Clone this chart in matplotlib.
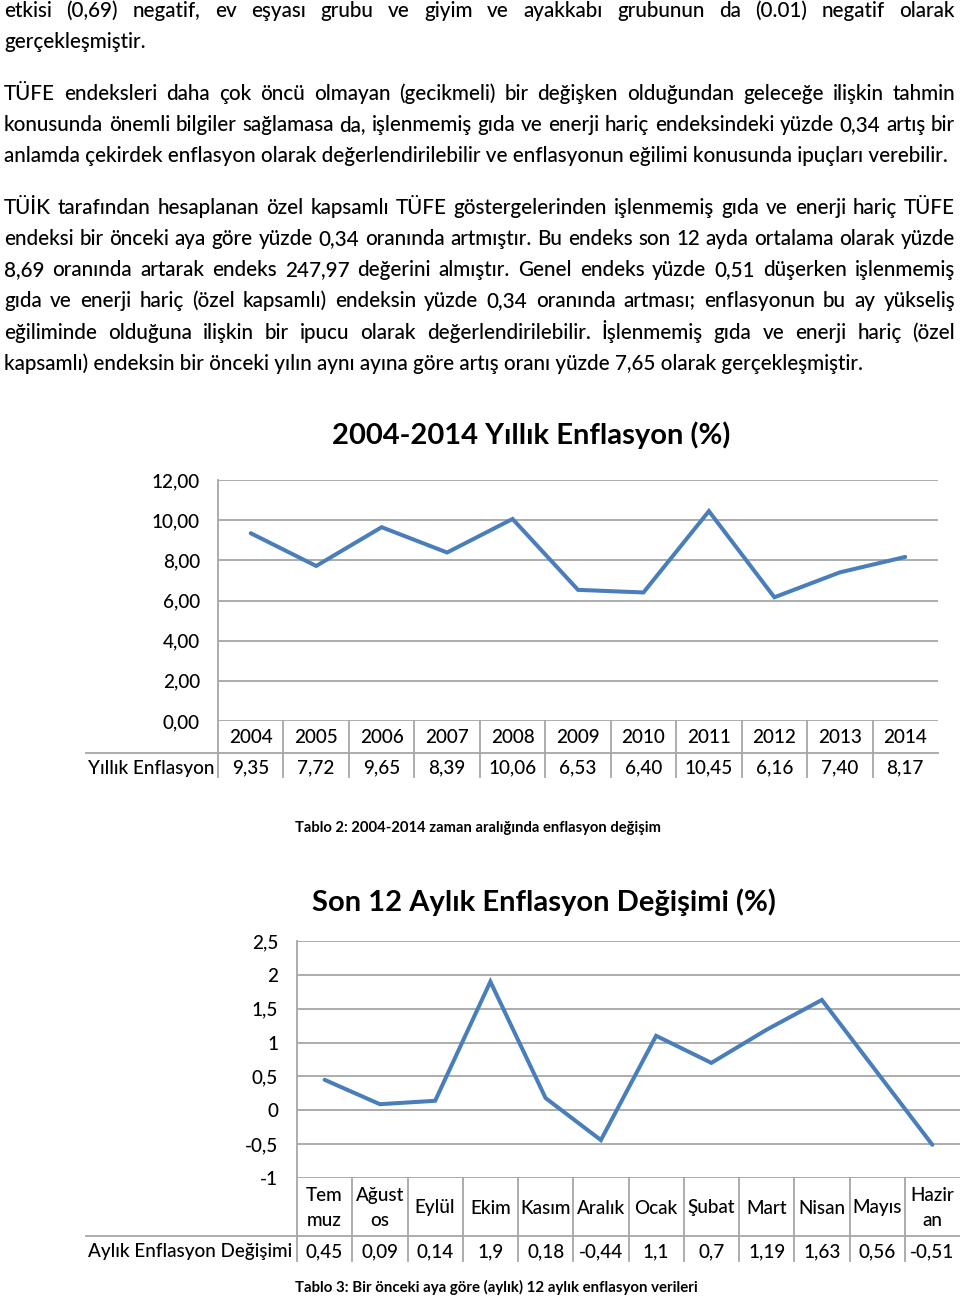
import numpy as np
import matplotlib
matplotlib.use('Agg')
import matplotlib.pyplot as plt
from matplotlib import transforms
from matplotlib.lines import Line2D

plt.rcParams['font.family'] = ['Lato', 'DejaVu Sans']
plt.rcParams['font.weight'] = 'medium'

# --- veriler ---
yillar = ['2004', '2005', '2006', '2007', '2008', '2009', '2010', '2011', '2012', '2013', '2014']
yillik = [9.35, 7.72, 9.65, 8.39, 10.06, 6.53, 6.40, 10.45, 6.16, 7.40, 8.17]
yillik_etiket = ['9,35', '7,72', '9,65', '8,39', '10,06', '6,53', '6,40', '10,45', '6,16', '7,40', '8,17']
y1_ticks = [0, 2, 4, 6, 8, 10, 12]
y1_labels = ['0,00', '2,00', '4,00', '6,00', '8,00', '10,00', '12,00']

aylar = ['Tem\nmuz', 'Ağust\nos', 'Eylül', 'Ekim', 'Kasım', 'Aralık', 'Ocak', 'Şubat', 'Mart', 'Nisan', 'Mayıs', 'Hazir\nan']
aylik = [0.45, 0.09, 0.14, 1.9, 0.18, -0.44, 1.1, 0.7, 1.19, 1.63, 0.56, -0.51]
aylik_etiket = ['0,45', '0,09', '0,14', '1,9', '0,18', '-0,44', '1,1', '0,7', '1,19', '1,63', '0,56', '-0,51']
y2_ticks = [-1, -0.5, 0, 0.5, 1, 1.5, 2, 2.5]
y2_labels = ['-1', '-0,5', '0', '0,5', '1', '1,5', '2', '2,5']

paragraflar = [
    (['etkisi (0,69) negatif, ev eşyası grubu ve giyim ve ayakkabı grubunun da (0.01) negatif olarak',
      'gerçekleşmiştir.'], [17, 48]),
    (['TÜFE endeksleri daha çok öncü olmayan (gecikmeli) bir değişken olduğundan geleceğe ilişkin tahmin',
      'konusunda önemli bilgiler sağlamasa da, işlenmemiş gıda ve enerji hariç endeksindeki yüzde 0,34 artış bir',
      'anlamda çekirdek enflasyon olarak değerlendirilebilir ve enflasyonun eğilimi konusunda ipuçları verebilir.'],
     [100, 131, 162]),
    (['TÜİK tarafından hesaplanan özel kapsamlı TÜFE göstergelerinden işlenmemiş gıda ve enerji hariç TÜFE',
      'endeksi bir önceki aya göre yüzde 0,34 oranında artmıştır. Bu endeks son 12 ayda ortalama olarak yüzde',
      '8,69 oranında artarak endeks 247,97 değerini almıştır. Genel endeks yüzde 0,51 düşerken işlenmemiş',
      'gıda ve enerji hariç (özel kapsamlı) endeksin yüzde 0,34 oranında artması; enflasyonun bu ay yükseliş',
      'eğiliminde olduğuna ilişkin bir ipucu olarak değerlendirilebilir. İşlenmemiş gıda ve enerji hariç (özel',
      'kapsamlı) endeksin bir önceki yılın aynı ayına göre artış oranı yüzde 7,65 olarak gerçekleşmiştir.'],
     [214, 245, 276, 307, 339, 370]),
]

W, H = 960, 1298
fig = plt.figure(figsize=(W / 100, H / 100), dpi=100)
fig.patch.set_facecolor('white')
r = fig.canvas.get_renderer()

def fx(px):
    return px / W

def fy(py):
    return 1 - py / H

MAVI = '#4a7ebb'
GRI = '#a6a6a6'
FS_TXT = 14.9
FS_TAB = 13.6

# --- paragraflar (iki yana yasli) ---
x0, x1 = 4, 955
for satirlar, ys in paragraflar:
    for i, (s, yb) in enumerate(zip(satirlar, ys)):
        if i == len(satirlar) - 1:
            fig.text(fx(x0), fy(yb), s, fontsize=FS_TXT, va='baseline', ha='left')
            continue
        kel = s.split(' ')
        ts = [fig.text(0, fy(yb), k, fontsize=FS_TXT, va='baseline', ha='left') for k in kel]
        gen = [t.get_window_extent(r).width for t in ts]
        bosluk = (x1 - x0 - sum(gen)) / (len(kel) - 1)
        x = x0
        for t, g in zip(ts, gen):
            t.set_x(fx(x))
            x += g + bosluk

def grafik(sol, sag, ust, alt, tablo_cizgi, tablo_alt, kat, deger, etiket,
           yt, ytl, baslik, baslik_xy, sol_etiket, ylim, pad):
    ax = fig.add_axes([fx(sol), fy(alt), fx(sag - sol), (alt - ust) / H])
    n = len(kat)
    xs = np.arange(n)
    ax.plot(xs, deger, color=MAVI, lw=2.9, solid_capstyle='round', solid_joinstyle='miter')
    ax.set_xlim(-0.5, n - 0.5)
    ax.set_ylim(*ylim)
    ax.set_yticks(yt)
    ax.set_yticklabels(ytl, fontsize=FS_TAB)
    ax.tick_params(axis='y', length=0, pad=pad)
    ax.set_xticks([])
    ax.grid(axis='y', color=GRI, lw=1.3)
    ax.set_axisbelow(True)
    for sp in ax.spines.values():
        sp.set_visible(False)
    tr = transforms.blended_transform_factory(ax.transData, fig.transFigure)
    # tablo cizgileri
    fig.add_artist(Line2D([fx(sol), fx(sol)], [fy(ust), fy(tablo_alt)], color=GRI, lw=1.3))
    for i in range(1, n):
        ax.add_line(Line2D([i - 0.5, i - 0.5], [fy(alt), fy(tablo_alt)], color=GRI, lw=1.3,
                           transform=tr, clip_on=False))
    fig.add_artist(Line2D([fx(86), fx(sag)], [fy(tablo_cizgi), fy(tablo_cizgi)], color=GRI, lw=1.3))
    orta_kat = (alt + tablo_cizgi) / 2 + 1
    orta_deg = (tablo_cizgi + tablo_alt) / 2 + 3
    for i in range(n):
        ax.text(i, fy(orta_kat), kat[i], transform=tr, ha='center', va='center', fontsize=FS_TAB,
                linespacing=1.55)
        ax.text(i, fy(orta_deg), etiket[i], transform=tr, ha='center', va='center', fontsize=FS_TAB)
    fig.text(fx(88), fy(orta_deg), sol_etiket, ha='left', va='center', fontsize=FS_TAB)
    fig.text(fx(baslik_xy[0]), fy(baslik_xy[1]), baslik, ha='center', va='center',
             fontsize=21, fontweight='bold')
    return ax

grafik(218, 938, 480, 721, 753, 777, yillar, yillik, yillik_etiket, y1_ticks, y1_labels,
       '2004-2014 Yıllık Enflasyon (%)', (531, 435), 'Yıllık Enflasyon', (0, 12), 13)
fig.text(fx(295), fy(828), 'Tablo 2: 2004-2014 zaman aralığında enflasyon değişim',
         fontsize=10.6, fontweight='bold', ha='left', va='center')

grafik(297, 960, 941, 1178, 1236, 1261, aylar, aylik, aylik_etiket, y2_ticks, y2_labels,
       'Son 12 Aylık Enflasyon Değişimi (%)', (544, 902), 'Aylık Enflasyon Değişimi', (-1, 2.5), 13.5)
fig.text(fx(295), fy(1287), 'Tablo 3: Bir önceki aya göre (aylık) 12 aylık enflasyon verileri',
         fontsize=10.8, fontweight='bold', ha='left', va='center')

fig.savefig('out.png', dpi=100)
